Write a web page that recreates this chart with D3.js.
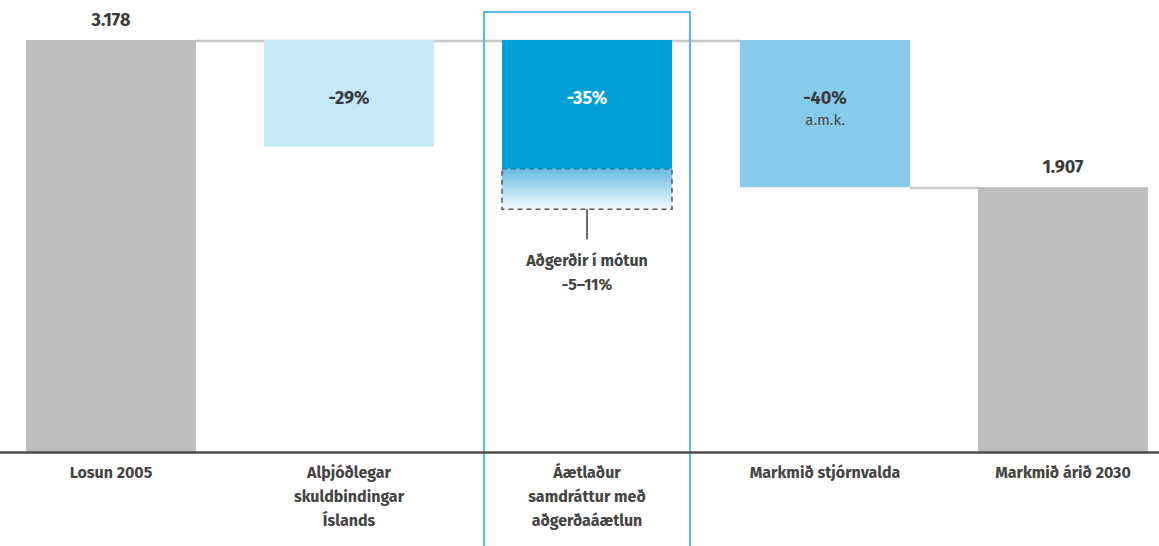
<!DOCTYPE html>
<html lang="is">
<head>
<meta charset="utf-8">
<script src="https://cdn.jsdelivr.net/npm/d3@7"></script>
<style>
  html, body { margin: 0; padding: 0; background: #fff; }
  svg { display: block; font-family: "Fira Sans", "Noto Sans", sans-serif; }
</style>
</head>
<body>
<div id="chart"></div>
<script>
// Gögn
const categories = ["Losun 2005", "Alþjóðlegar skuldbindingar Íslands", "Áætlaður samdráttur með aðgerðaáætlun", "Markmið stjórnvalda", "Markmið árið 2030"];
const categoryLines = [
  ["Losun 2005"],
  ["Alþjóðlegar", "skuldbindingar", "Íslands"],
  ["Áætlaður", "samdráttur með", "aðgerðaáætlun"],
  ["Markmið stjórnvalda"],
  ["Markmið árið 2030"]
];
const emissionStart = 3178;
const emissionTarget = 1907;
const reductions = [29, 35, 40];          // % samdráttur
const reductionLabels = ["-29%", "-35%", "-40%"];
const pendingRange = [5, 11];             // aðgerðir í mótun, %
const totalLabels = ["3.178", "1.907"];

const width = 1159, height = 546;
const baseY = 453;

const svg = d3.select("#chart").append("svg")
  .attr("width", width)
  .attr("height", height);

const x = d3.scaleBand()
  .domain(categories)
  .range([8, 1166])
  .paddingInner(0.2857)
  .paddingOuter(0.0756);

// neðri mörk kvarða liggja undir núlli svo súlurnar nái niður að ás
const y = d3.scaleLinear()
  .domain([-390, emissionStart])
  .range([baseY, 40]);

const bw = x.bandwidth();
const val = p => emissionStart * (1 - p / 100);

// litastigull fyrir "í mótun"
const defs = svg.append("defs");
const grad = defs.append("linearGradient")
  .attr("id", "pendingGrad")
  .attr("x1", 0).attr("y1", 0).attr("x2", 0).attr("y2", 1);
grad.append("stop").attr("offset", "0%").attr("stop-color", "#66bde5");
grad.append("stop").attr("offset", "100%").attr("stop-color", "#f2fafd");

// tengilínur
svg.append("line")
  .attr("x1", x(categories[0]) + bw).attr("x2", x(categories[3]))
  .attr("y1", y(emissionStart) + 1).attr("y2", y(emissionStart) + 1)
  .attr("stroke", "#c8c8c8").attr("stroke-width", 2.5);
svg.append("line")
  .attr("x1", x(categories[3]) + bw).attr("x2", x(categories[4]))
  .attr("y1", y(emissionTarget) + 1).attr("y2", y(emissionTarget) + 1)
  .attr("stroke", "#c8c8c8").attr("stroke-width", 2.5);

// heildarsúlur
const totals = [
  { cat: categories[0], v: emissionStart, label: totalLabels[0] },
  { cat: categories[4], v: emissionTarget, label: totalLabels[1] }
];
svg.selectAll("rect.total")
  .data(totals)
  .join("rect")
  .attr("class", "total")
  .attr("x", d => x(d.cat))
  .attr("y", d => y(d.v))
  .attr("width", bw)
  .attr("height", d => baseY - y(d.v))
  .attr("fill", "#bdbec0");

svg.selectAll("text.total")
  .data(totals)
  .join("text")
  .attr("class", "total")
  .attr("x", d => x(d.cat) + bw / 2)
  .attr("y", d => y(d.v) - 14)
  .attr("text-anchor", "middle")
  .attr("font-size", 18)
  .attr("font-weight", 700)
  .attr("fill", "#3a3a3a")
  .text(d => d.label);

// samdráttarsúlur
const steps = reductions.map((p, i) => ({
  cat: categories[i + 1], p, label: reductionLabels[i],
  fill: ["#c6e9f8", "#009fda", "#87cbea"][i],
  textFill: i === 1 ? "#ffffff" : "#3a3a3a"
}));

// "í mótun" kassi undir miðsúlu
const mid = steps[1];
const pendTop = y(val(mid.p));
const pendBot = y(val(mid.p + pendingRange[1]));
svg.append("rect")
  .attr("x", x(mid.cat)).attr("y", pendTop)
  .attr("width", bw).attr("height", pendBot - pendTop)
  .attr("fill", "url(#pendingGrad)")
  .attr("stroke", "#555").attr("stroke-width", 1.5)
  .attr("stroke-dasharray", "5,4");

svg.selectAll("rect.step")
  .data(steps)
  .join("rect")
  .attr("class", "step")
  .attr("x", d => x(d.cat))
  .attr("y", y(emissionStart))
  .attr("width", bw)
  .attr("height", d => y(val(d.p)) - y(emissionStart))
  .attr("fill", d => d.fill);

svg.selectAll("text.step")
  .data(steps)
  .join("text")
  .attr("class", "step")
  .attr("x", d => x(d.cat) + bw / 2)
  .attr("y", 104)
  .attr("text-anchor", "middle")
  .attr("font-size", 18)
  .attr("font-weight", 700)
  .attr("fill", d => d.textFill)
  .text(d => d.label);

svg.append("text")
  .attr("x", x(categories[3]) + bw / 2)
  .attr("y", 124.5)
  .attr("text-anchor", "middle")
  .attr("font-size", 15)
  .attr("fill", "#4a4a4a")
  .text("a.m.k.");

// vísilína og texti
const cx = x(mid.cat) + bw / 2;
svg.append("line")
  .attr("x1", cx).attr("x2", cx)
  .attr("y1", pendBot).attr("y2", pendBot + 30)
  .attr("stroke", "#6b6b6b").attr("stroke-width", 2);
svg.selectAll("text.pend")
  .data(["Aðgerðir í mótun", `-${pendingRange[0]}–${pendingRange[1]}%`])
  .join("text")
  .attr("class", "pend")
  .attr("x", cx)
  .attr("y", (d, i) => 265.5 + i * 24)
  .attr("text-anchor", "middle")
  .attr("font-size", 16)
  .attr("font-weight", 700)
  .attr("fill", "#444")
  .text(d => d);

// áherslurammi
svg.append("rect")
  .attr("x", x(mid.cat) - 18).attr("y", 12)
  .attr("width", bw + 36).attr("height", height)
  .attr("fill", "none")
  .attr("stroke", "#55bbe8").attr("stroke-width", 2);

// ás
svg.append("line")
  .attr("x1", 0).attr("x2", width)
  .attr("y1", baseY - 0.5).attr("y2", baseY - 0.5)
  .attr("stroke", "#4d4d4d").attr("stroke-width", 2.5);

// flokkaheiti
const labelG = svg.selectAll("g.cat")
  .data(categories)
  .join("g")
  .attr("class", "cat")
  .attr("transform", d => `translate(${x(d) + bw / 2},0)`);
labelG.selectAll("text")
  .data((d, i) => categoryLines[i])
  .join("text")
  .attr("y", (d, i) => 477.5 + i * 24)
  .attr("text-anchor", "middle")
  .attr("font-size", 16)
  .attr("font-weight", 700)
  .attr("fill", "#444")
  .text(d => d);
</script>
</body>
</html>
